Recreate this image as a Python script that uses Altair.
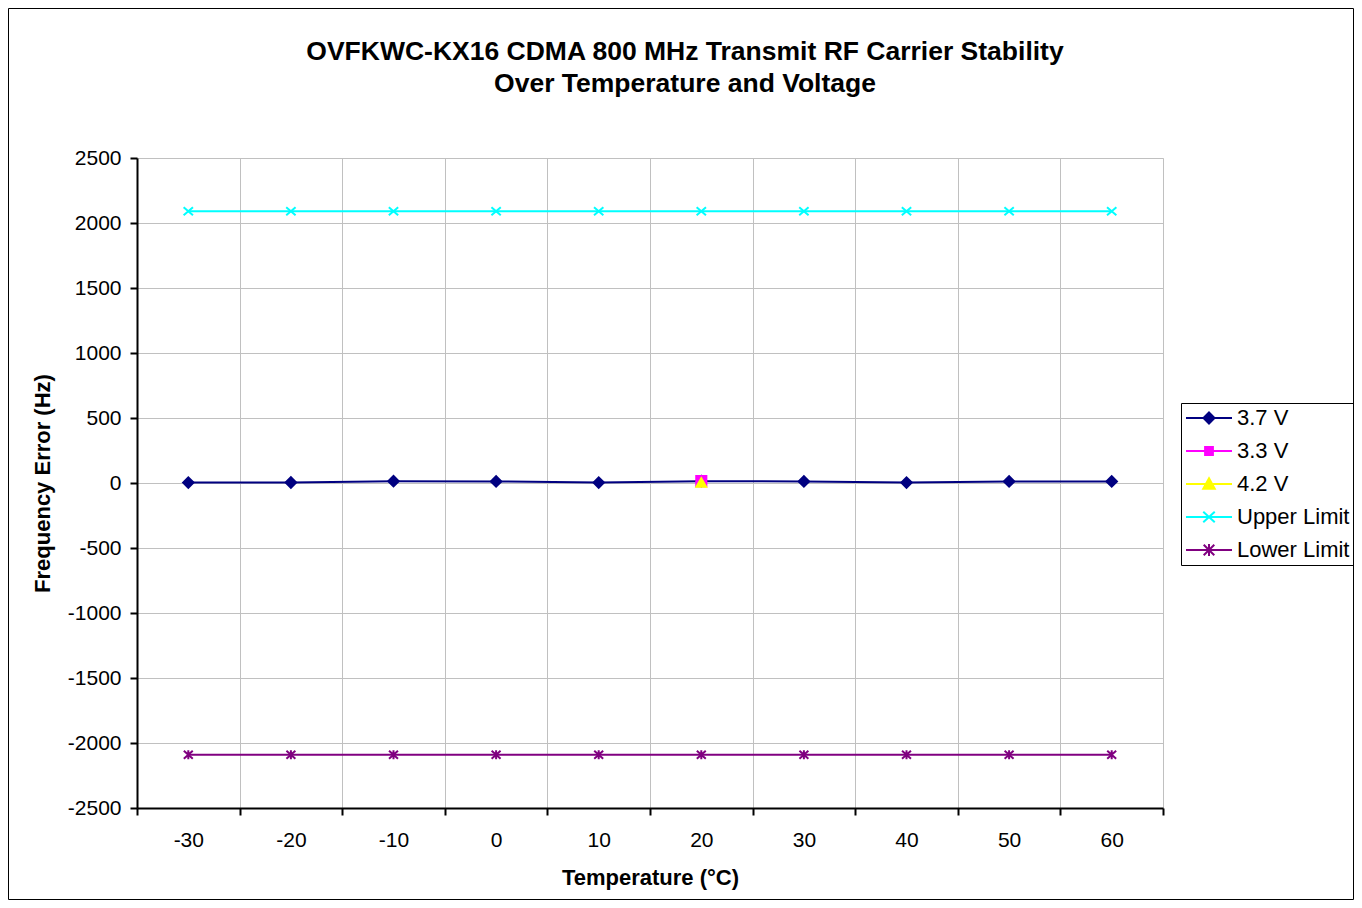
import altair as alt
import pandas as pd

# ---- data ----
temps = [-30, -20, -10, 0, 10, 20, 30, 40, 50, 60]
series_names = ["3.7 V", "3.3 V", "4.2 V", "Upper Limit", "Lower Limit"]
v37 = [3, 4, 14, 12, 3, 14, 12, 3, 12, 12]
v33_temps = [20]
v33 = [14]
v42_temps = [20]
v42 = [4]
upper = [2090, 2090, 2090, 2090, 2090, 2090, 2090, 2090, 2090, 2090]
lower = [-2090, -2090, -2090, -2090, -2090, -2090, -2090, -2090, -2090, -2090]
y_ticks = [-2500, -2000, -1500, -1000, -500, 0, 500, 1000, 1500, 2000, 2500]
title_lines = ["OVFKWC-KX16 CDMA 800 MHz Transmit RF Carrier Stability",
               "Over Temperature and Voltage"]

colors = ["#000080", "#FF00FF", "#FFFF00", "#00FFFF", "#800080"]

rows = []
for t, v in zip(temps, v37):
    rows.append({"temp": t, "value": v, "series": "3.7 V"})
for t, v in zip(v33_temps, v33):
    rows.append({"temp": t, "value": v, "series": "3.3 V"})
for t, v in zip(v42_temps, v42):
    rows.append({"temp": t, "value": v, "series": "4.2 V"})
for t, v in zip(temps, upper):
    rows.append({"temp": t, "value": v, "series": "Upper Limit"})
for t, v in zip(temps, lower):
    rows.append({"temp": t, "value": v, "series": "Lower Limit"})
df = pd.DataFrame(rows)

FONT = "Liberation Sans"

x_path = "M-1,-0.85L1,0.85M-1,0.85L1,-0.85"
ast_path = "M-1,-0.9L1,0.9M-1,0.9L1,-0.9M0,-1L0,1"
chart_shapes = ["diamond", "square", "triangle-up", x_path, ast_path]
chart_sizes = [110, 80, 130, 200, 200]

legend_shapes = [
    "M-1,0L1,0M0,-0.24L0.24,0L0,0.24L-0.24,0Z",
    "M-1,0L1,0M-0.17,-0.17L0.17,-0.17L0.17,0.17L-0.17,0.17Z",
    "M-1,0L1,0M0,-0.25L0.25,0.21L-0.25,0.21Z",
    "M-1,0L1,0M-0.25,-0.23L0.25,0.23M-0.25,0.23L0.25,-0.23",
    "M-1,0L1,0M-0.23,-0.23L0.23,0.23M-0.23,0.23L0.23,-0.23M0,-0.26L0,0.26",
]
LEG_SIZE = 2116

x_enc = alt.X(
    "temp:O",
    bandPosition=0.5,
    scale=alt.Scale(type="band", paddingInner=0, paddingOuter=0),
    axis=alt.Axis(
        title="Temperature (°C)", labelAngle=0, tickBand="extent", grid=True,
        gridColor="#c0c0c0", gridWidth=1, domainColor="black", domainWidth=2,
        tickColor="black", tickWidth=2, tickSize=7, labelFontSize=21,
        labelFont=FONT, labelColor="black", labelPadding=14,
        titleFont=FONT, titleFontSize=22, titleFontWeight="bold",
        titleColor="black", titlePadding=17,
    ),
)
y_enc = alt.Y(
    "value:Q",
    scale=alt.Scale(domain=[-2500, 2500], nice=False),
    axis=alt.Axis(
        title="Frequency Error (Hz)", values=y_ticks, grid=True,
        gridColor="#c0c0c0", gridWidth=1, domainColor="black", domainWidth=2,
        tickColor="black", tickWidth=2, tickSize=7, labelFontSize=21,
        labelFont=FONT, labelColor="black", labelPadding=9,
        titleFont=FONT, titleFontSize=22, titleFontWeight="bold",
        titleColor="black", titlePadding=13, labelExpr="'' + datum.value",
    ),
)

sdom = dict(domain=series_names, range=colors)

lines = alt.Chart(df).mark_line(strokeWidth=2).encode(
    x=x_enc, y=y_enc,
    stroke=alt.Stroke("series:N", scale=alt.Scale(**sdom), legend=None),
)

points = alt.Chart(df).mark_point(strokeWidth=2, opacity=1).encode(
    x=x_enc, y=y_enc,
    stroke=alt.Stroke("series:N", scale=alt.Scale(**sdom), legend=None),
    fill=alt.Fill("series:N", scale=alt.Scale(**sdom), legend=None),
    shape=alt.Shape("series:N", scale=alt.Scale(domain=series_names, range=chart_shapes), legend=None),
    size=alt.Size("series:N", scale=alt.Scale(domain=series_names, range=chart_sizes), legend=None),
)

leg = alt.Legend(
    title=None, orient="none", legendX=1044, legendY=245,
    labelFont=FONT, labelFontSize=22, labelColor="black",
    symbolSize=LEG_SIZE, symbolStrokeWidth=2, symbolOpacity=1,
    strokeColor="black", padding=4, rowPadding=11, clipHeight=22, labelOffset=4,
)

legend_layer = alt.Chart(df).transform_filter("false").mark_point(
    strokeWidth=2, opacity=1, size=LEG_SIZE
).encode(
    x=x_enc, y=y_enc,
    stroke=alt.Stroke("series:N", scale=alt.Scale(**sdom), legend=leg),
    fill=alt.Fill("series:N", scale=alt.Scale(**sdom), legend=leg),
    shape=alt.Shape("series:N", scale=alt.Scale(domain=series_names, range=legend_shapes), legend=leg),
)

frame = alt.Chart(alt.Data(values=[{"f": 1}])).mark_rect(
    filled=False, stroke="black", strokeWidth=1
).encode(
    x=alt.value(-128.5), x2=alt.value(1216.5),
    y=alt.value(-149.5), y2=alt.value(741.5),
)

chart = alt.layer(frame, lines, points, legend_layer).resolve_scale(
    stroke="independent", fill="independent", shape="independent", size="independent"
).properties(
    width=1026, height=650,
    padding={"left": 129, "top": 150, "right": 191, "bottom": 92},
    autosize=alt.AutoSizeParams(type="none"),
    title=alt.Title(
        title_lines, font=FONT, fontSize=26.5, fontWeight="bold", color="black",
        anchor="middle", frame="group", dx=35, offset=-89, lineHeight=32,
    ),
).configure_view(stroke="black", strokeWidth=2).configure(background="white")

chart.save("out.html", embed_options={"renderer": "svg", "actions": False})
